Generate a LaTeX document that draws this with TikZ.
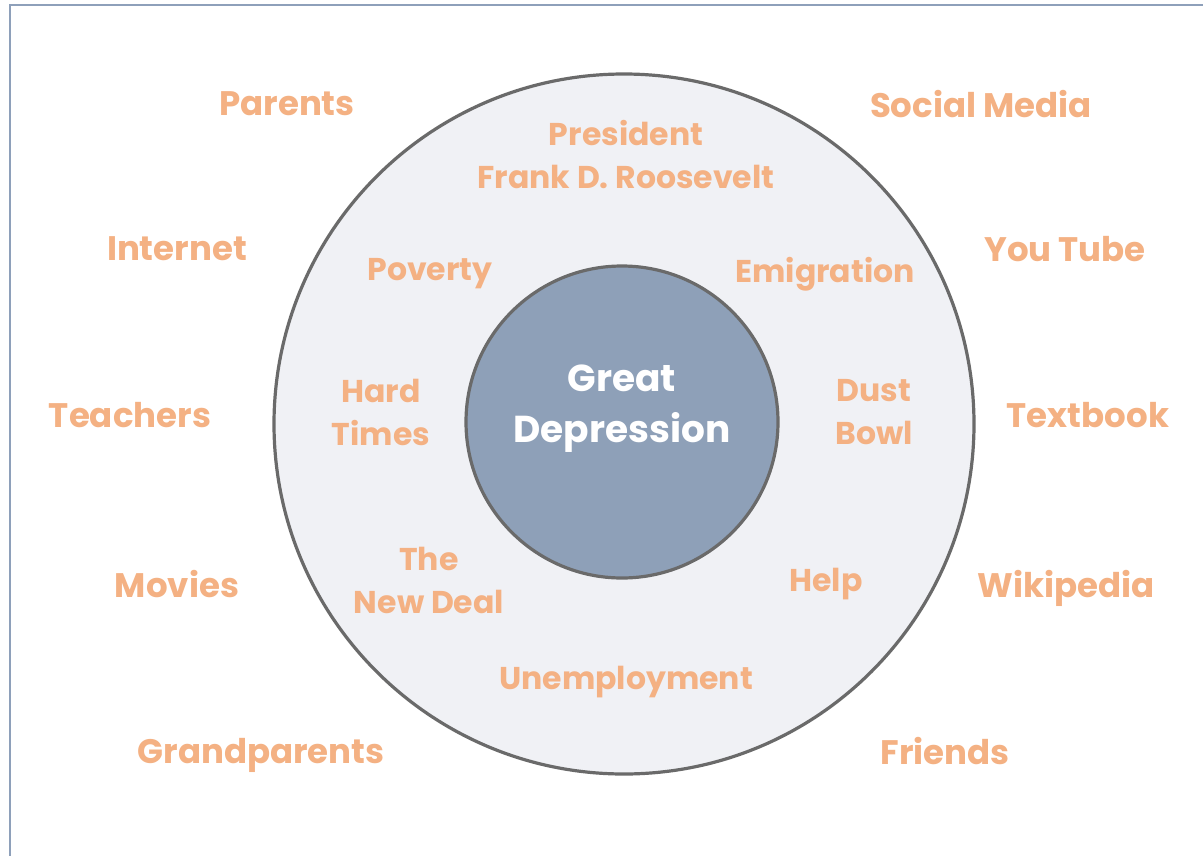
\documentclass[tikz,border=0pt]{standalone}
\usepackage{fontspec}
\setmainfont{Poppins}[UprightFont={* Bold},BoldFont={* Bold}]
\definecolor{txtorange}{HTML}{F4B183}
\definecolor{framecol}{HTML}{8EA0BA}
\definecolor{ringfill}{HTML}{F0F1F5}
\definecolor{corefill}{HTML}{8EA0B8}
\definecolor{edgegray}{HTML}{6A6A6A}
\tikzset{
  outerlbl/.style={text=txtorange, font=\fontsize{34}{43}\selectfont, align=center, inner sep=0pt},
  innerlbl/.style={text=txtorange, font=\fontsize{31.5}{43}\selectfont, align=center, inner sep=0pt},
  corelbl/.style={text=white, font=\fontsize{37.5}{51}\selectfont, align=center, inner sep=0pt},
}
\begin{document}
\begin{tikzpicture}[x=1pt,y=-1pt]
\useasboundingbox (0,0) rectangle (1203,855);
\fill[white] (0,0) rectangle (1203,855);
\draw[framecol, line width=2.5pt] (10,856) -- (10,5) -- (1204,5);
\draw[edgegray, line width=3.2pt, fill=ringfill] (624,424) circle [radius=350pt];
\draw[edgegray, line width=3.2pt, fill=corefill] (622,422) circle [radius=156pt];
\node[corelbl] (core) at (622,409) {Great\\Depression};
% outer
\node[outerlbl] (parents) at (287,104) {Parents};
\node[outerlbl] (social) at (981,104) {Social Media};
\node[outerlbl] (internet) at (177,249) {Internet};
\node[outerlbl] (youtube) at (1065,249) {You Tube};
\node[outerlbl] (teachers) at (130,415) {Teachers};
\node[outerlbl] (textbook) at (1088,415) {Textbook};
\node[outerlbl] (movies) at (177,584) {Movies};
\node[outerlbl] (wiki) at (1066,588) {Wikipedia};
\node[outerlbl] (grand) at (261,755) {Grandparents};
\node[outerlbl] (friends) at (945,751) {Friends};
% inner ring
\node[innerlbl] (fdr) at (626,155) {President\\Frank D. Roosevelt};
\node[innerlbl] (poverty) at (430,274) {Poverty};
\node[innerlbl] (emig) at (825,274) {Emigration};
\node[innerlbl] (hard) at (381,412) {Hard\\Times};
\node[innerlbl] (dust) at (874,412) {Dust\\Bowl};
\node[innerlbl] (newdeal) at (429,580) {The\\New Deal};
\node[innerlbl] (help) at (826,584) {Help};
\node[innerlbl] (unemp) at (626,682) {Unemployment};
\end{tikzpicture}
\end{document}
